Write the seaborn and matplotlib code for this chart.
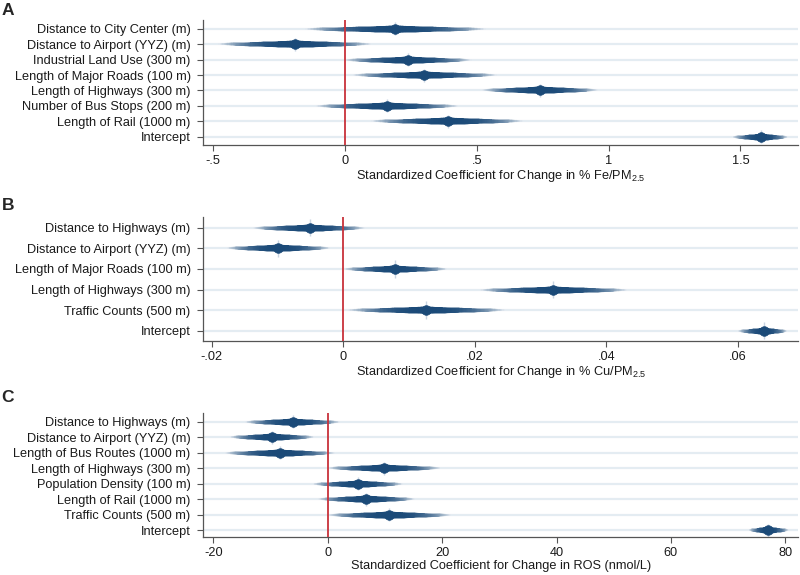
import numpy as np
import pandas as pd
import matplotlib
matplotlib.use("Agg")
import matplotlib.pyplot as plt
import seaborn as sns
from matplotlib.colors import to_rgb

# ---------------- data ----------------
labels_a = ["Distance to City Center (m)", "Distance to Airport (YYZ) (m)",
            "Industrial Land Use (300 m)", "Length of Major Roads (100 m)",
            "Length of Highways (300 m)", "Number of Bus Stops (200 m)",
            "Length of Rail (1000 m)", "Intercept"]
coef_a = [0.19, -0.19, 0.24, 0.30, 0.74, 0.16, 0.39, 1.58]
lo_a = [-0.15, -0.48, 0.00, 0.03, 0.52, -0.11, 0.10, 1.47]
hi_a = [0.534, 0.10, 0.48, 0.575, 0.96, 0.43, 0.675, 1.68]
ticks_a = [-0.5, 0, 0.5, 1, 1.5]
ticklabels_a = ["-.5", "0", ".5", "1", "1.5"]

labels_b = ["Distance to Highways (m)", "Distance to Airport (YYZ) (m)",
            "Length of Major Roads (100 m)", "Length of Highways (300 m)",
            "Traffic Counts (500 m)", "Intercept"]
coef_b = [-0.0051, -0.0099, 0.0078, 0.0319, 0.0126, 0.0640]
lo_b = [-0.0137, -0.0177, 0.0001, 0.0208, 0.0007, 0.0600]
hi_b = [0.0033, -0.0020, 0.0158, 0.0432, 0.0246, 0.0675]
ticks_b = [-0.02, 0, 0.02, 0.04, 0.06]
ticklabels_b = ["-.02", "0", ".02", ".04", ".06"]

labels_c = ["Distance to Highways (m)", "Distance to Airport (YYZ) (m)",
            "Length of Bus Routes (1000 m)", "Length of Highways (300 m)",
            "Population Density (100 m)", "Length of Rail (1000 m)",
            "Traffic Counts (500 m)", "Intercept"]
coef_c = [-6.1, -9.7, -8.4, 9.8, 5.3, 6.7, 10.7, 76.9]
lo_c = [-14.5, -17.1, -18.0, 0.0, -2.6, -1.7, 0.0, 73.6]
hi_c = [2.1, -2.4, 1.2, 19.7, 13.1, 15.2, 21.6, 80.6]
ticks_c = [-20, 0, 20, 40, 60, 80]
ticklabels_c = ["-20", "0", "20", "40", "60", "80"]

xlabels = [r"Standardized Coefficient for Change in % Fe/PM$_{2.5}$",
           r"Standardized Coefficient for Change in % Cu/PM$_{2.5}$",
           "Standardized Coefficient for Change in ROS (nmol/L)"]
panel_letters = ["A", "B", "C"]

# ---------------- style ----------------
sns.set_theme(style="white")
plt.rcParams["font.family"] = ["Liberation Sans", "DejaVu Sans"]
plt.rcParams["mathtext.fontset"] = "custom"
plt.rcParams["mathtext.rm"] = "Liberation Sans"
plt.rcParams["mathtext.it"] = "Liberation Sans"

NAVY = "#1b4a78"
LIGHT = "#e2e9f0"
GRID = "#e4ecf2"
RED = "#c8323a"
SPINE = "#555555"
TEXT = "#1a1a1a"
FS = 9.2

fig = plt.figure(figsize=(8.0, 5.75), dpi=100)

axes_rects = [
    [0.254, 0.7478, 0.744, 0.2174],
    [0.254, 0.4070, 0.744, 0.2157],
    [0.254, 0.0661, 0.744, 0.2157],
]
xlims = [(-0.538, 1.72), (-0.0213, 0.0692), (-21.8, 82.3)]
ylims = [(7.55, -0.58), (5.5, -0.53), (7.45, -0.58)]

panels = [
    (labels_a, coef_a, lo_a, hi_a, ticks_a, ticklabels_a),
    (labels_b, coef_b, lo_b, hi_b, ticks_b, ticklabels_b),
    (labels_c, coef_c, lo_c, hi_c, ticks_c, ticklabels_c),
]

navy_rgb = np.array(to_rgb(NAVY))
light_rgb = np.array(to_rgb(LIGHT))

for i, (labels, coef, lo, hi, ticks, tlabels) in enumerate(panels):
    ax = fig.add_axes(axes_rects[i])
    n = len(labels)
    ypos = np.arange(n)
    coef = np.array(coef)
    lo = np.array(lo)
    hi = np.array(hi)

    # grid lines
    for y in ypos:
        ax.axhline(y, color=GRID, lw=1.6, zorder=0)

    # smooth CIs: widest (thin, light) first, narrowest (thick, dark) last
    N = 60
    for k in range(N, 0, -1):
        f = k / N
        t = min(1.0, (f ** 3.0) * 1.02)
        col = navy_rgb * (1 - t) + light_rgb * t
        lw = 1.3 + 3.6 * (1 - f) ** 1.2
        ax.hlines(ypos, coef - f * (coef - lo), coef + f * (hi - coef),
                  colors=[tuple(col)], lw=lw, zorder=2, capstyle="butt")

    # faint vertical spike through each estimate
    ax.vlines(coef, ypos - 0.42, ypos + 0.42, colors="#c9d5e2", lw=1.0, zorder=2.5)

    # red reference line
    ax.axvline(0, color=RED, lw=1.3, zorder=3)

    df = pd.DataFrame({"coef": coef, "y": ypos})
    sns.scatterplot(data=df, x="coef", y="y", ax=ax, color=NAVY, s=48,
                    marker="o", edgecolor=NAVY, linewidth=0.5, zorder=4)

    ax.set_xlim(*xlims[i])
    ax.set_ylim(*ylims[i])
    ax.set_yticks(ypos)
    ax.set_yticklabels(labels, fontsize=FS, color=TEXT)
    ax.set_xticks(ticks)
    ax.set_xticklabels(tlabels, fontsize=FS, color=TEXT)
    ax.set_xlabel(xlabels[i], fontsize=FS, color=TEXT, labelpad=1)
    ax.set_ylabel("")
    ax.tick_params(axis="y", direction="out", length=4, width=0.8,
                   color=SPINE, pad=5, left=True)
    ax.tick_params(axis="x", direction="out", length=4, width=0.8,
                   color=SPINE, pad=3, bottom=True)
    for s in ["top", "right"]:
        ax.spines[s].set_visible(False)
    for s in ["left", "bottom"]:
        ax.spines[s].set_color(SPINE)
        ax.spines[s].set_linewidth(0.9)

fig.text(0.002, 0.982, "A", fontsize=12.5, fontweight="bold", va="center", ha="left")
fig.text(0.002, 0.643, "B", fontsize=12.5, fontweight="bold", va="center", ha="left")
fig.text(0.002, 0.309, "C", fontsize=12.5, fontweight="bold", va="center", ha="left")

fig.savefig("out.png", dpi=100)
